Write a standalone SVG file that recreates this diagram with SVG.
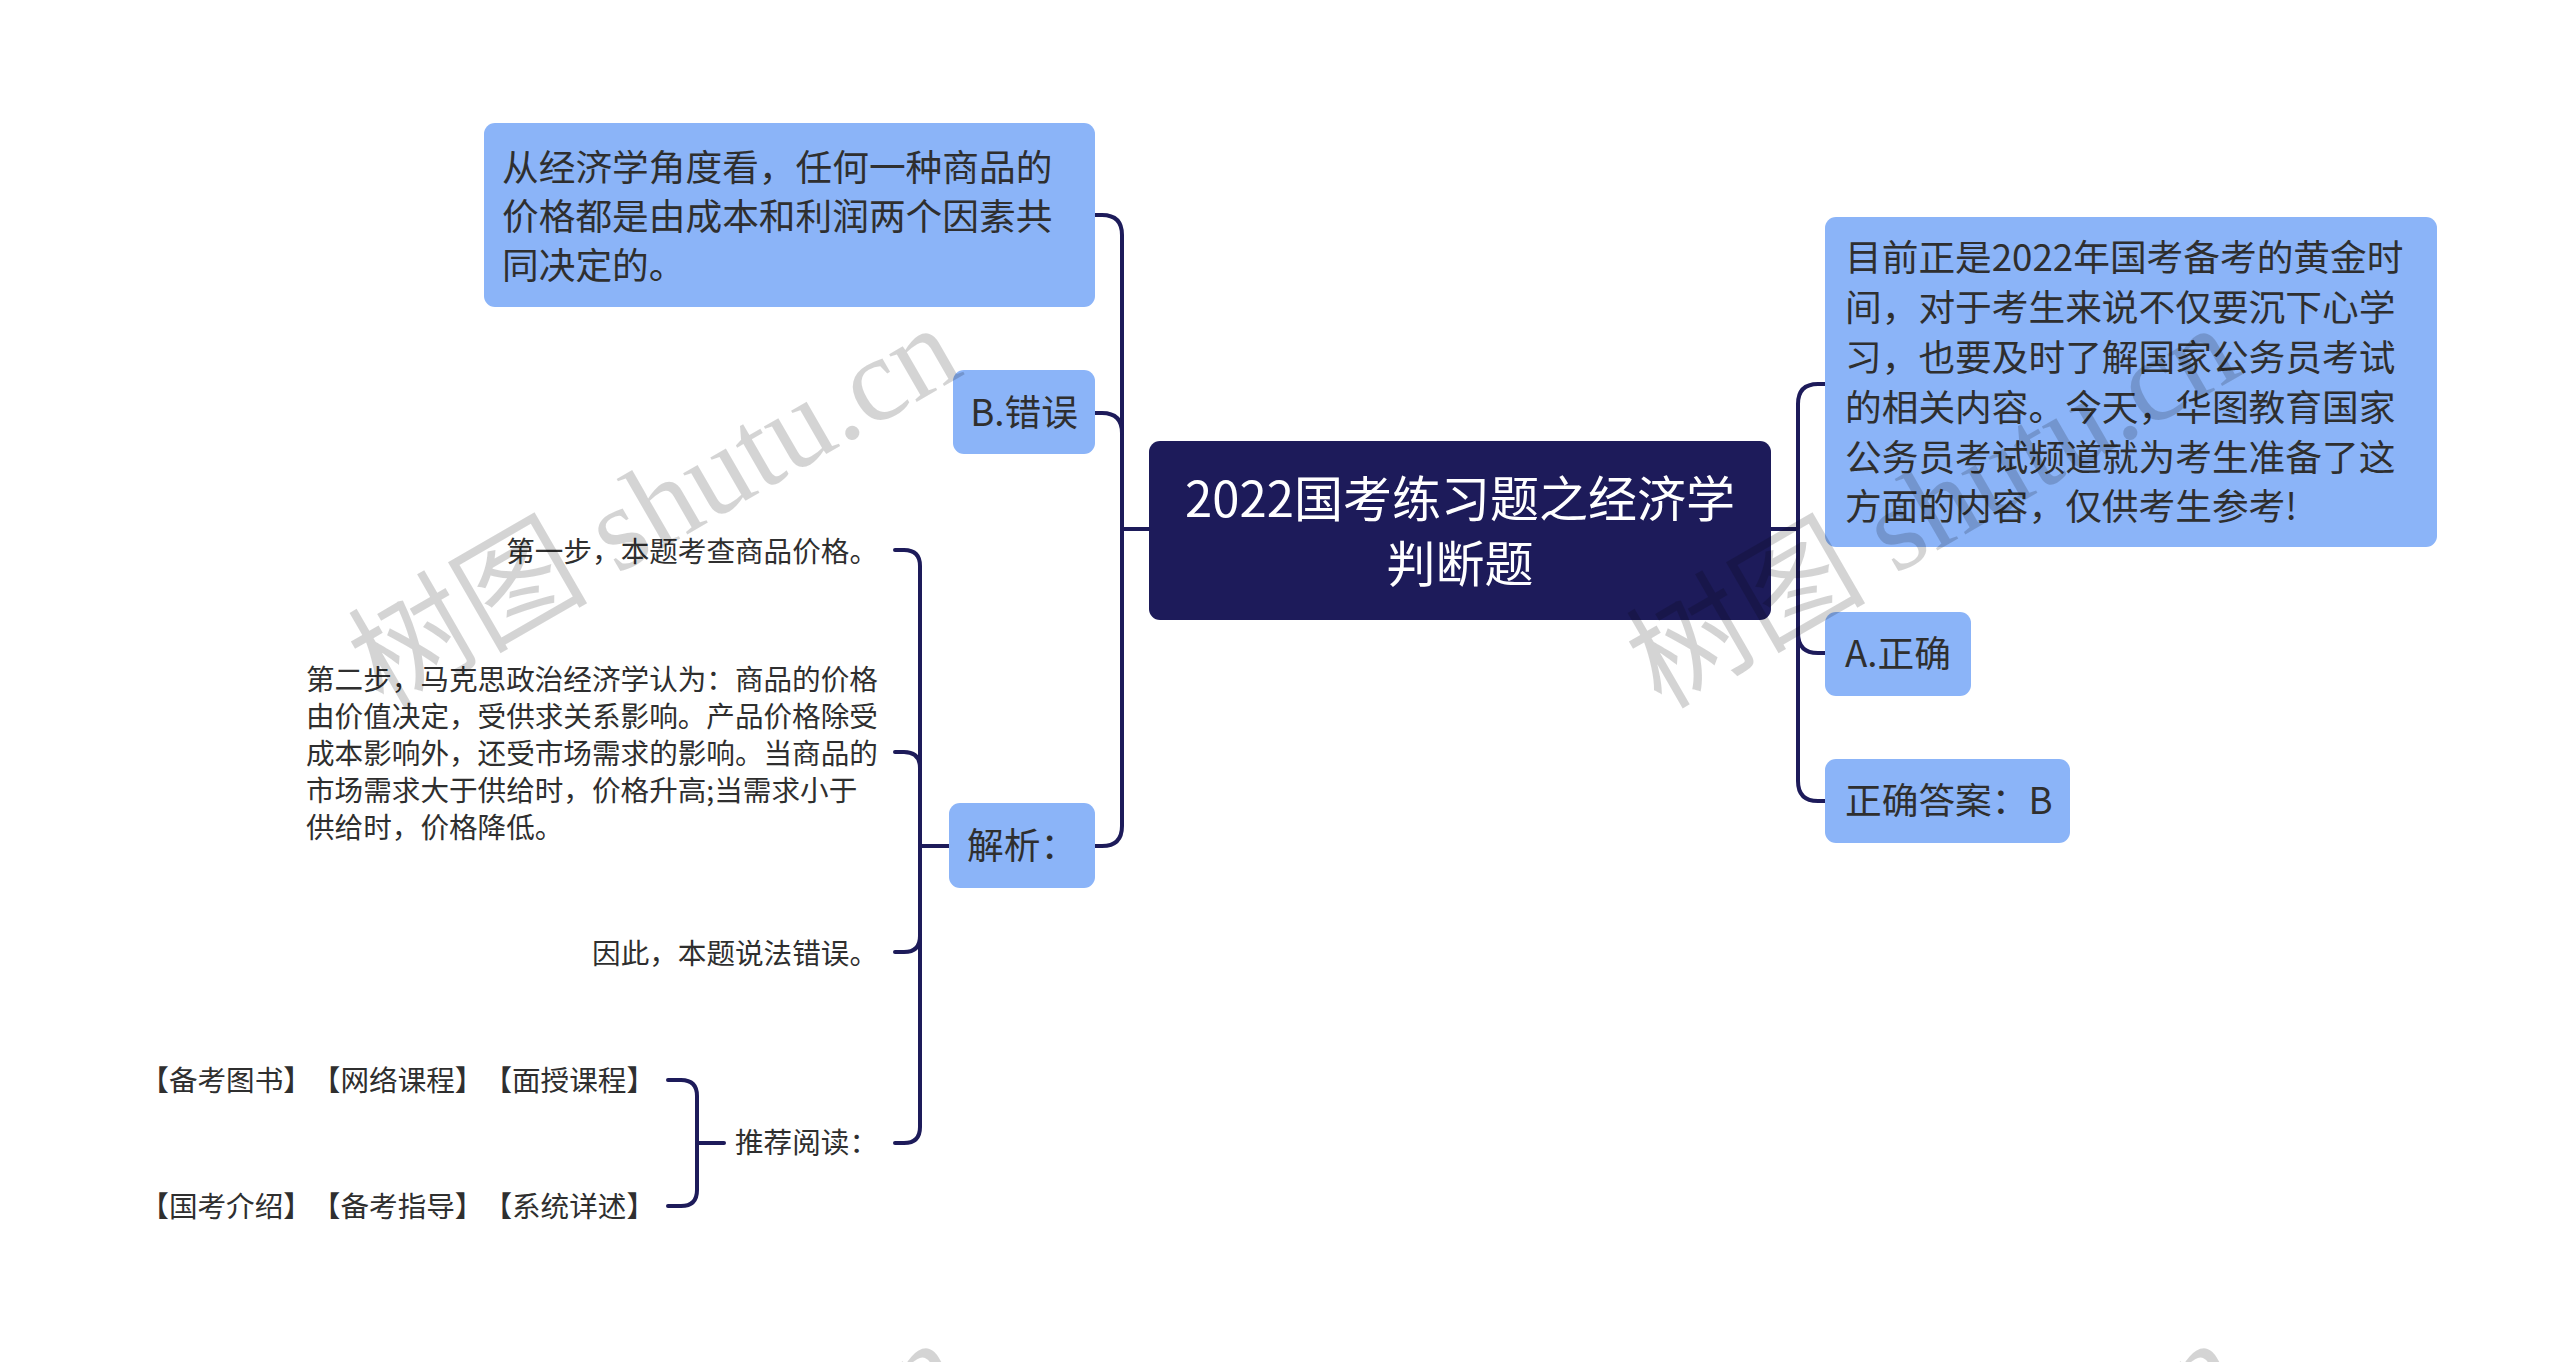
<svg xmlns="http://www.w3.org/2000/svg" xmlns:xlink="http://www.w3.org/1999/xlink" width="2560" height="1362" viewBox="0 0 2560 1362">
<style>
text{text-spacing-trim:space-all;}
.box{fill:#8bb4f8;}
.root{fill:#1d1b5a;}
.t{font-family:"Noto Sans CJK SC","Liberation Sans",sans-serif;fill:#2f2f2f;dominant-baseline:central;}
.t1{font-size:36.7px;}
.t2{font-size:28.6px;}
.rt{font-family:"Noto Sans CJK SC","Liberation Sans",sans-serif;fill:#ffffff;font-size:49px;dominant-baseline:central;text-anchor:middle;}
.c{fill:none;stroke:#1d1b5a;stroke-width:4;stroke-linecap:round;stroke-linejoin:round;}
.wm{font-family:"Liberation Serif","Noto Sans CJK SC",serif;font-size:120px;fill:#000;fill-opacity:0.17;}
</style>
<defs>
<g id="wm"><text class="wm" transform="translate(383,710) rotate(-30)">树图 shutu.cn</text></g>
</defs>
<rect width="2560" height="1362" fill="#ffffff"/>
<g id="connectors">
<path class="c" d="M1149,529 H1122"/>
<path class="c" d="M1095,215 H1102 Q1122,215 1122,235 V826 Q1122,846 1102,846 H1095"/>
<path class="c" d="M1095,413 H1102 Q1122,413 1122,433"/>
<path class="c" d="M1771,529 H1798"/>
<path class="c" d="M1825,384 H1818 Q1798,384 1798,404 V781 Q1798,801 1818,801 H1825"/>
<path class="c" d="M1798,633 Q1798,653 1818,653 H1825"/>
<path class="c" d="M949,846 H920"/>
<path class="c" d="M895,550 H904 Q920,550 920,566 V1127 Q920,1143 904,1143 H895"/>
<path class="c" d="M895,752 H904 Q920,752 920,768"/>
<path class="c" d="M920,936 Q920,952 904,952 H895"/>
<path class="c" d="M724,1143 H697"/>
<path class="c" d="M668,1080 H681 Q697,1080 697,1096 V1190 Q697,1206 681,1206 H668"/>
</g>
<g id="root">
<rect class="root" x="1149" y="441" width="622" height="179" rx="11"/>
<text class="rt" x="1460" y="495">2022国考练习题之经济学</text>
<text class="rt" x="1460" y="560">判断题</text>
</g>
<g id="n-price">
<rect class="box" x="484" y="123" width="611" height="184" rx="11"/>
<text class="t t1" x="502" y="165">从经济学角度看，任何一种商品的</text>
<text class="t t1" x="502" y="214">价格都是由成本和利润两个因素共</text>
<text class="t t1" x="502" y="263">同决定的。</text>
</g>
<g id="n-b">
<rect class="box" x="953" y="370" width="142" height="84" rx="11"/>
<text class="t t1" x="1024" y="410" text-anchor="middle">B.错误</text>
</g>
<g id="n-jiexi">
<rect class="box" x="949" y="803" width="146" height="85" rx="11"/>
<text class="t t1" x="967" y="843">解析：</text>
</g>
<g id="n-intro">
<rect class="box" x="1825" y="217" width="612" height="330" rx="11"/>
<text class="t t1" x="1845" y="255">目前正是2022年国考备考的黄金时</text>
<text class="t t1" x="1845" y="305">间，对于考生来说不仅要沉下心学</text>
<text class="t t1" x="1845" y="355">习，也要及时了解国家公务员考试</text>
<text class="t t1" x="1845" y="405">的相关内容。今天，华图教育国家</text>
<text class="t t1" x="1845" y="455">公务员考试频道就为考生准备了这</text>
<text class="t t1" x="1845" y="504">方面的内容，仅供考生参考!</text>
</g>
<g id="n-a">
<rect class="box" x="1825" y="612" width="146" height="84" rx="11"/>
<text class="t t1" x="1845" y="651">A.正确</text>
</g>
<g id="n-answer">
<rect class="box" x="1825" y="759" width="245" height="84" rx="11"/>
<text class="t t1" x="1845" y="798">正确答案：B</text>
</g>
<g id="n-step1">
<text class="t t2" x="878" y="549" text-anchor="end">第一步，本题考查商品价格。</text>
</g>
<g id="n-step2">
<text class="t t2" x="306" y="677">第二步，马克思政治经济学认为：商品的价格</text>
<text class="t t2" x="306" y="714">由价值决定，受供求关系影响。产品价格除受</text>
<text class="t t2" x="306" y="751">成本影响外，还受市场需求的影响。当商品的</text>
<text class="t t2" x="306" y="788">市场需求大于供给时，价格升高;当需求小于</text>
<text class="t t2" x="306" y="825">供给时，价格降低。</text>
</g>
<g id="n-conclusion">
<text class="t t2" x="878" y="951" text-anchor="end">因此，本题说法错误。</text>
</g>
<g id="n-recommend">
<text class="t t2" x="878" y="1140" text-anchor="end">推荐阅读：</text>
</g>
<g id="n-rec1">
<text class="t t2" x="655" y="1078" text-anchor="end">【备考图书】【网络课程】【面授课程】</text>
</g>
<g id="n-rec2">
<text class="t t2" x="655" y="1204" text-anchor="end">【国考介绍】【备考指导】【系统详述】</text>
</g>
<g id="watermarks">
<use xlink:href="#wm" href="#wm"/>
<use xlink:href="#wm" href="#wm" x="1278" y="0"/>
<use xlink:href="#wm" href="#wm" x="0" y="1015"/>
<use xlink:href="#wm" href="#wm" x="1278" y="1015"/>
</g>
</svg>
